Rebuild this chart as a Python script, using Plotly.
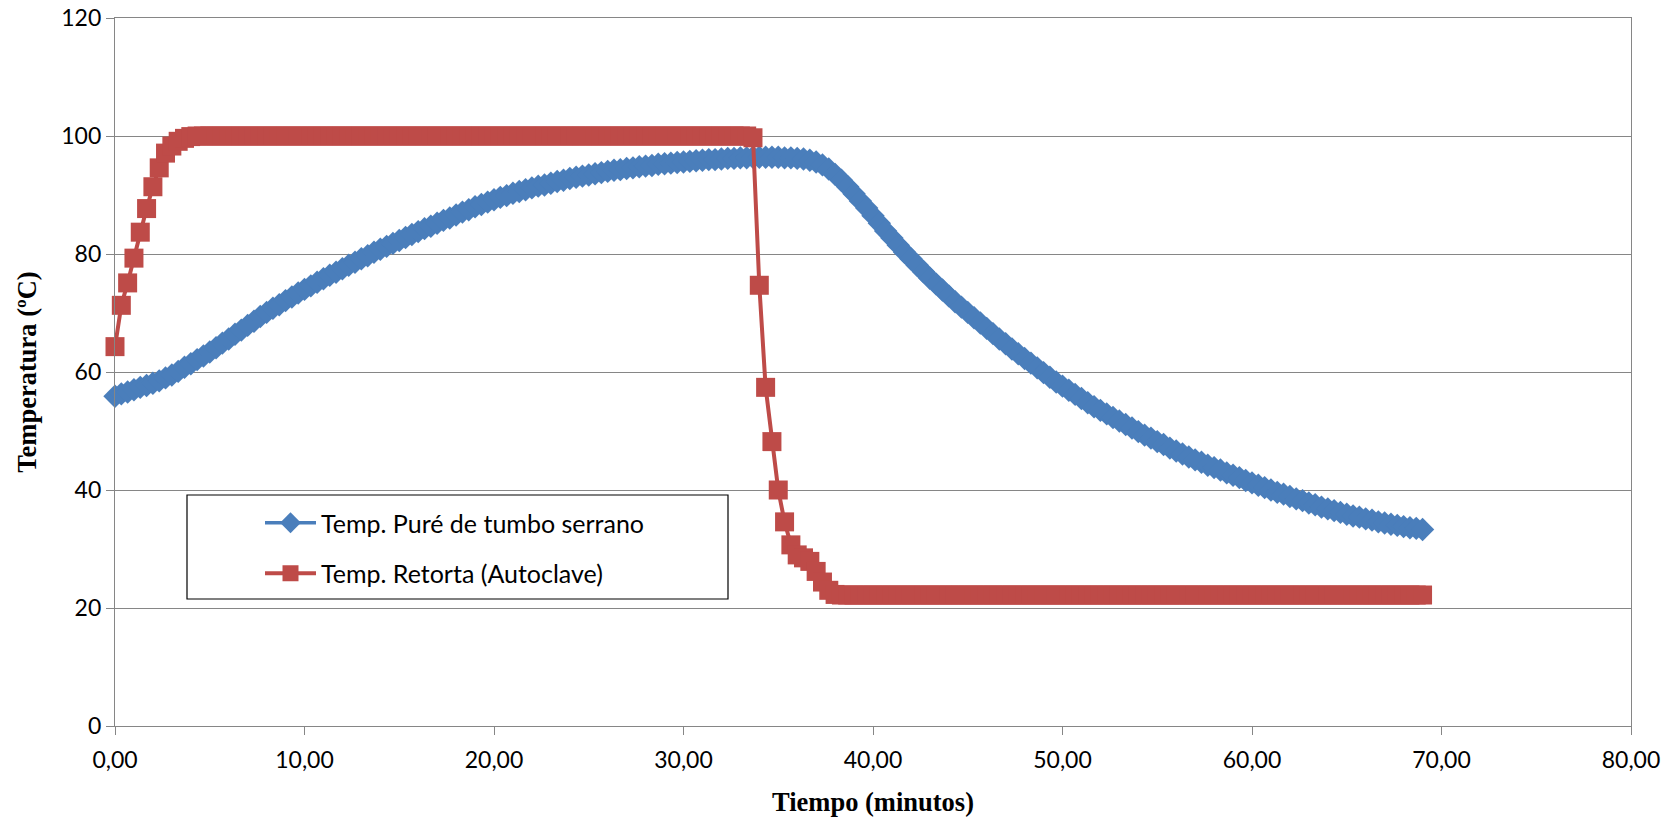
import plotly.graph_objects as go

# Lecturas cada 20 s (en segundos desde el inicio del proceso)
tiempo_s = [
    0, 20, 40, 60, 80, 100, 120, 140, 160, 180, 200, 220,
    240, 260, 280, 300, 320, 340, 360, 380, 400, 420, 440, 460,
    480, 500, 520, 540, 560, 580, 600, 620, 640, 660, 680, 700,
    720, 740, 760, 780, 800, 820, 840, 860, 880, 900, 920, 940,
    960, 980, 1000, 1020, 1040, 1060, 1080, 1100, 1120, 1140, 1160, 1180,
    1200, 1220, 1240, 1260, 1280, 1300, 1320, 1340, 1360, 1380, 1400, 1420,
    1440, 1460, 1480, 1500, 1520, 1540, 1560, 1580, 1600, 1620, 1640, 1660,
    1680, 1700, 1720, 1740, 1760, 1780, 1800, 1820, 1840, 1860, 1880, 1900,
    1920, 1940, 1960, 1980, 2000, 2020, 2040, 2060, 2080, 2100, 2120, 2140,
    2160, 2180, 2200, 2220, 2240, 2260, 2280, 2300, 2320, 2340, 2360, 2380,
    2400, 2420, 2440, 2460, 2480, 2500, 2520, 2540, 2560, 2580, 2600, 2620,
    2640, 2660, 2680, 2700, 2720, 2740, 2760, 2780, 2800, 2820, 2840, 2860,
    2880, 2900, 2920, 2940, 2960, 2980, 3000, 3020, 3040, 3060, 3080, 3100,
    3120, 3140, 3160, 3180, 3200, 3220, 3240, 3260, 3280, 3300, 3320, 3340,
    3360, 3380, 3400, 3420, 3440, 3460, 3480, 3500, 3520, 3540, 3560, 3580,
    3600, 3620, 3640, 3660, 3680, 3700, 3720, 3740, 3760, 3780, 3800, 3820,
    3840, 3860, 3880, 3900, 3920, 3940, 3960, 3980, 4000, 4020, 4040, 4060,
    4080, 4100, 4120, 4140,
]
tiempo_min = [s / 60 for s in tiempo_s]

# Temperatura en el punto frío del puré (ºC)
temp_pure = [
    55.9, 56.3, 56.6, 57.0, 57.4, 57.7, 58.1, 58.5, 59.0, 59.5, 60.1, 60.8,
    61.4, 62.1, 62.7, 63.4, 64.1, 64.9, 65.6, 66.4, 67.1, 67.9, 68.6, 69.4,
    70.1, 70.8, 71.4, 72.1, 72.7, 73.4, 74.0, 74.6, 75.2, 75.8, 76.4, 76.9,
    77.5, 78.1, 78.6, 79.2, 79.7, 80.3, 80.8, 81.3, 81.8, 82.3, 82.8, 83.3,
    83.8, 84.3, 84.7, 85.2, 85.7, 86.1, 86.6, 87.1, 87.5, 88.0, 88.4, 88.8,
    89.2, 89.6, 89.9, 90.3, 90.6, 90.9, 91.2, 91.5, 91.7, 92.0, 92.3, 92.5,
    92.8, 93.0, 93.2, 93.4, 93.6, 93.8, 94.0, 94.2, 94.3, 94.5, 94.6, 94.8,
    94.9, 95.0, 95.2, 95.3, 95.4, 95.5, 95.6, 95.7, 95.8, 95.9, 96.0, 96.0,
    96.1, 96.2, 96.2, 96.3, 96.3, 96.4, 96.4, 96.4, 96.4, 96.4, 96.3, 96.3,
    96.2, 96.1, 95.9, 95.6, 95.1, 94.4, 93.5, 92.5, 91.4, 90.2, 89.0, 87.8,
    86.5, 85.2, 83.9, 82.7, 81.5, 80.3, 79.2, 78.1, 77.0, 75.9, 74.9, 73.9,
    72.9, 71.9, 71.0, 70.1, 69.2, 68.3, 67.4, 66.5, 65.6, 64.8, 63.9, 63.1,
    62.3, 61.5, 60.7, 59.9, 59.1, 58.3, 57.6, 56.9, 56.2, 55.5, 54.8, 54.1,
    53.5, 52.9, 52.3, 51.7, 51.1, 50.5, 49.9, 49.3, 48.8, 48.2, 47.7, 47.1,
    46.6, 46.1, 45.6, 45.1, 44.7, 44.2, 43.8, 43.4, 42.9, 42.5, 42.1, 41.6,
    41.2, 40.8, 40.4, 40.0, 39.6, 39.3, 38.9, 38.5, 38.2, 37.8, 37.5, 37.1,
    36.8, 36.5, 36.2, 35.9, 35.6, 35.4, 35.1, 34.9, 34.6, 34.4, 34.2, 34.0,
    33.8, 33.6, 33.5, 33.3,
]

# Temperatura del medio de calentamiento en la retorta (ºC)
temp_retorta = [
    64.3, 71.3, 75.1, 79.3, 83.7, 87.7, 91.4, 94.6, 97.1, 98.3, 99.1, 99.6,
    99.9, 100.0, 100.0, 100.0, 100.0, 100.0, 100.0, 100.0, 100.0, 100.0, 100.0, 100.0,
    100.0, 100.0, 100.0, 100.0, 100.0, 100.0, 100.0, 100.0, 100.0, 100.0, 100.0, 100.0,
    100.0, 100.0, 100.0, 100.0, 100.0, 100.0, 100.0, 100.0, 100.0, 100.0, 100.0, 100.0,
    100.0, 100.0, 100.0, 100.0, 100.0, 100.0, 100.0, 100.0, 100.0, 100.0, 100.0, 100.0,
    100.0, 100.0, 100.0, 100.0, 100.0, 100.0, 100.0, 100.0, 100.0, 100.0, 100.0, 100.0,
    100.0, 100.0, 100.0, 100.0, 100.0, 100.0, 100.0, 100.0, 100.0, 100.0, 100.0, 100.0,
    100.0, 100.0, 100.0, 100.0, 100.0, 100.0, 100.0, 100.0, 100.0, 100.0, 100.0, 100.0,
    100.0, 100.0, 100.0, 100.0, 100.0, 99.7, 74.7, 57.4, 48.2, 40.0, 34.6, 30.7,
    29.0, 28.5, 27.9, 26.2, 24.4, 23.0, 22.3, 22.2, 22.2, 22.2, 22.2, 22.2,
    22.2, 22.2, 22.2, 22.2, 22.2, 22.2, 22.2, 22.2, 22.2, 22.2, 22.2, 22.2,
    22.2, 22.2, 22.2, 22.2, 22.2, 22.2, 22.2, 22.2, 22.2, 22.2, 22.2, 22.2,
    22.2, 22.2, 22.2, 22.2, 22.2, 22.2, 22.2, 22.2, 22.2, 22.2, 22.2, 22.2,
    22.2, 22.2, 22.2, 22.2, 22.2, 22.2, 22.2, 22.2, 22.2, 22.2, 22.2, 22.2,
    22.2, 22.2, 22.2, 22.2, 22.2, 22.2, 22.2, 22.2, 22.2, 22.2, 22.2, 22.2,
    22.2, 22.2, 22.2, 22.2, 22.2, 22.2, 22.2, 22.2, 22.2, 22.2, 22.2, 22.2,
    22.2, 22.2, 22.2, 22.2, 22.2, 22.2, 22.2, 22.2, 22.2, 22.2, 22.2, 22.2,
    22.2, 22.2, 22.2, 22.2,
]

nombres = ["Temp. Puré de tumbo serrano", "Temp. Retorta (Autoclave)"]
colores = ["#4A7EBB", "#BE4B48"]

GRIS = "#868686"
FUENTE = "Lato"
SERIF = "Liberation Serif"

fig = go.Figure()
fig.add_trace(go.Scatter(
    x=tiempo_min, y=temp_pure, name=nombres[0], mode="lines+markers",
    legendgroup="a", cliponaxis=False,
    line=dict(color=colores[0], width=3.5),
    marker=dict(symbol="diamond", size=18, color=colores[0], line=dict(width=0)),
))
fig.add_trace(go.Scatter(
    x=tiempo_min, y=temp_retorta, name=nombres[1], mode="lines+markers",
    legendgroup="b", cliponaxis=False,
    line=dict(color=colores[1], width=4),
    marker=dict(symbol="square", size=19, color=colores[1], line=dict(width=0)),
))

W, H = 1677, 819
L, R, T, B = 115, 46, 18, 93
PW, PH = W - L - R, H - T - B

# Recuadro de la leyenda
fig.add_shape(
    type="rect", xref="paper", yref="paper",
    x0=(187 - L) / PW, x1=(728 - L) / PW,
    y0=(H - B - 599) / PH, y1=(H - B - 495) / PH,
    line=dict(color="black", width=1.2), fillcolor="white", layer="above",
)

eje = dict(
    showline=True, linecolor=GRIS, linewidth=1.3, mirror=True,
    ticks="outside", ticklen=8, tickcolor=GRIS, tickwidth=1.3,
    gridcolor=GRIS, gridwidth=1.3, zeroline=False,
    tickfont=dict(family=FUENTE, size=23, color="black"),
)

fig.update_layout(
    width=W, height=H,
    margin=dict(l=L, r=R, t=T, b=B, autoexpand=False),
    paper_bgcolor="white", plot_bgcolor="white",
    separators=",.",
    xaxis=dict(
        range=[0, 80], dtick=10, tickformat=".2f", showgrid=False,
        ticklabelstandoff=5,
        title=dict(text="Tiempo (minutos)", standoff=20,
                   font=dict(family=SERIF, size=26.5, color="black", weight="bold")),
        **eje,
    ),
    yaxis=dict(
        range=[0, 120], dtick=20, showgrid=True,
        title=dict(text="Temperatura (ºC)", standoff=16,
                   font=dict(family=SERIF, size=26.5, color="black", weight="bold")),
        **eje,
    ),
    showlegend=True,
    legend=dict(
        x=(260 - L) / PW, y=(H - B - 500) / PH,
        xanchor="left", yanchor="top",
        bgcolor="rgba(0,0,0,0)", borderwidth=0,
        font=dict(family=FUENTE, size=25, color="black"),
        tracegroupgap=15, traceorder="grouped", itemwidth=51,
    ),
)

fig.write_html("out.html")
